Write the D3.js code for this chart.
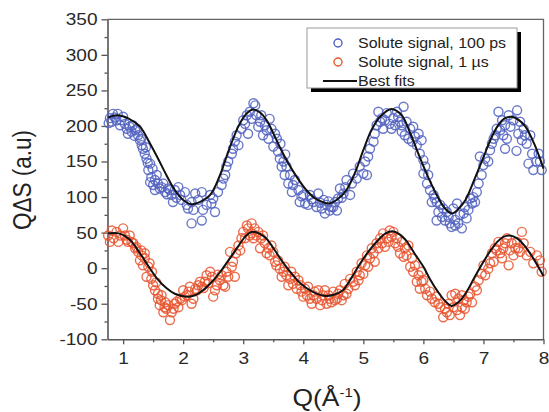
<!DOCTYPE html>
<meta charset="utf-8">

<!-- Load d3.js -->
<script src="https://d3js.org/d3.v7.min.js"></script>

<style>
  body { margin: 0; background: #fff; }
  text { font-family: "Liberation Sans", Arial, sans-serif; }
</style>

<!-- Create a div where the graph will take place -->
<div id="my_dataviz"></div>

<script>

// ---- data ----
var yTicks = [-100, -50, 0, 50, 100, 150, 200, 250, 300, 350];
var xTicks = [1, 2, 3, 4, 5, 6, 7, 8];
var legendLabels = ["Solute signal, 100 ps", "Solute signal, 1 \u00b5s", "Best fits"];

// solute signal, 100 ps  [Q, value]
var sig100ps = [
  [0.78,211],[0.83,217],[0.91,217],[0.81,206],[0.89,208],[0.97,208],[0.95,201],[1.03,203],
  [0.76,204],[0.86,212],[1.00,213],[1.16,201],[1.23,196],[1.19,186],[1.30,182],[1.38,170],
  [1.06,196],[1.11,199],[1.14,192],[1.20,194],[1.08,189],[1.25,187],[1.28,180],[1.31,173],
  [1.33,168],[1.36,161],[1.39,154],[1.45,147],[1.42,138],[1.47,128],[1.45,121],[1.50,117],
  [1.41,148],[1.49,140],[1.53,124],[1.61,112],[1.67,119],[1.73,104],[1.78,110],[1.89,99],
  [1.56,131],[1.58,119],[1.53,110],[1.64,114],[1.70,107],[1.75,112],[1.81,103],[1.83,93],
  [1.86,110],[1.92,114],[1.95,103],[1.97,96],[2.03,107],[2.06,89],[2.08,84],[2.14,93],
  [2.17,82],[2.14,63],[2.20,105],[2.25,96],[2.31,107],[2.33,82],[2.31,67],[2.39,89],
  [2.45,103],[2.47,91],[2.53,79],[2.50,98],[2.58,107],[2.64,117],[2.67,126],[2.70,131],
  [2.72,143],[2.75,150],[2.81,161],[2.83,168],[2.86,178],[2.89,187],[2.92,173],[2.97,196],
  [3.00,208],[3.06,215],[3.08,189],[3.11,220],[3.20,229],[3.14,210],[3.22,215],[3.28,206],
  [3.17,232],[3.30,215],[3.36,201],[3.33,187],[3.44,210],[3.47,196],[3.42,182],[3.56,182],
  [3.03,203],[3.25,199],[3.39,194],[3.53,189],[3.62,175],[3.70,160],[3.86,124],[3.97,101],
  [3.50,171],[3.58,164],[3.61,154],[3.67,150],[3.64,143],[3.72,143],[3.69,131],[3.78,131],
  [3.75,119],[3.83,117],[3.81,107],[3.92,110],[3.94,93],[4.00,103],[4.03,91],[4.08,89],
  [4.11,103],[4.17,93],[4.22,86],[4.25,105],[4.31,84],[4.36,77],[4.39,89],[4.44,81],
  [4.14,97],[4.28,92],[4.34,96],[4.42,94],[4.47,86],[4.53,93],[4.64,99],[4.70,114],
  [4.50,86],[4.56,81],[4.58,98],[4.61,112],[4.67,105],[4.72,124],[4.78,103],[4.81,119],
  [4.83,133],[4.89,126],[4.94,143],[5.00,133],[5.03,150],[5.08,157],[5.11,168],[5.06,131],
  [5.17,178],[5.19,189],[5.22,201],[5.25,220],[5.31,211],[5.33,196],[5.39,218],[5.44,203],
  [5.50,211],[5.56,220],[5.61,206],[5.64,192],[5.67,227],[5.64,201],[5.72,206],[5.78,196],
  [5.28,206],[5.36,208],[5.47,196],[5.53,201],[5.58,213],[5.69,187],[5.75,182],[5.81,178],
  [5.83,199],[5.86,185],[5.92,189],[5.97,180],[5.89,173],[5.94,161],[6.00,152],[6.03,143],
  [6.00,133],[6.08,131],[6.06,119],[6.11,110],[6.17,103],[6.14,93],[6.22,93],[6.28,89],
  [6.25,79],[6.31,72],[6.22,67],[6.36,67],[6.39,79],[6.44,63],[6.50,84],[6.56,91],
  [6.19,98],[6.33,84],[6.42,72],[6.53,68],[6.61,75],[6.69,86],[6.78,98],[6.53,60],
  [6.47,58],[6.58,63],[6.64,56],[6.67,77],[6.72,70],[6.75,82],[6.81,91],[6.86,93],
  [6.89,107],[6.83,100],[6.92,119],[6.97,131],[7.00,145],[7.03,154],[6.94,157],[7.08,150],
  [7.11,166],[7.17,182],[7.22,196],[7.25,220],[7.31,208],[7.28,194],[7.36,201],[7.39,182],
  [7.36,168],[7.42,215],[7.56,222],[7.61,206],[7.58,189],[7.67,196],[7.72,175],[7.55,165],
  [7.14,175],[7.20,187],[7.33,187],[7.45,199],[7.50,208],[7.64,180],[7.69,187],[7.88,150],
  [7.78,187],[7.81,161],[7.75,147],[7.83,138],[7.92,161],[7.94,150],[7.97,138]
];

// solute signal, 1 us  [Q, value]
var sig1us = [
  [0.75,46],[0.81,53],[0.89,51],[0.78,37],[0.92,37],[1.00,56],[1.03,46],[1.11,46],
  [0.84,42],[0.95,46],[1.06,40],[1.14,37],[1.22,30],[1.30,25],[1.36,21],[1.44,7],
  [1.08,37],[1.17,35],[1.20,28],[1.25,23],[1.31,18],[1.28,11],[1.36,14],[1.33,4],
  [1.42,2],[1.39,-12],[1.47,-15],[1.50,-24],[1.53,-31],[1.58,-36],[1.58,-43],[1.64,-38],
  [1.48,-5],[1.55,-20],[1.63,-45],[1.69,-55],[1.75,-52],[1.84,-57],[1.89,-47],[1.98,-45],
  [1.61,-52],[1.70,-48],[1.67,-62],[1.72,-57],[1.81,-62],[1.78,-73],[1.86,-50],[1.92,-55],
  [1.95,-43],[2.00,-31],[2.06,-38],[2.11,-26],[2.14,-50],[2.17,-43],[2.20,-29],[2.25,-24],
  [2.31,-26],[2.36,-19],[2.39,-10],[2.45,-5],[2.50,-40],[2.53,-31],[2.56,-24],[2.61,-17],
  [2.03,-40],[2.09,-33],[2.23,-31],[2.28,-19],[2.34,-28],[2.42,-21],[2.48,-12],[2.58,-9],
  [2.64,-10],[2.67,-24],[2.70,-26],[2.72,-5],[2.75,-12],[2.81,2],[2.86,-12],[2.83,9],
  [2.78,23],[2.92,32],[2.97,42],[3.00,51],[3.06,60],[3.08,56],[3.14,49],[3.14,63],
  [3.19,56],[3.25,51],[3.17,42],[3.30,42],[3.36,35],[3.28,28],[3.42,28],[3.44,18],
  [2.88,21],[2.95,25],[3.03,42],[3.11,46],[3.22,46],[3.33,46],[3.39,21],[3.47,32],
  [3.50,23],[3.53,9],[3.58,11],[3.61,-1],[3.67,-5],[3.64,-12],[3.72,-10],[3.78,-15],
  [3.75,-24],[3.83,-22],[3.89,-29],[3.92,-17],[3.97,-33],[4.03,-29],[4.06,-38],[4.11,-43],
  [3.55,4],[3.69,2],[3.80,-5],[3.86,-12],[3.95,-24],[4.00,-40],[4.08,-26],[4.17,-38],
  [4.14,-50],[4.19,-33],[4.22,-43],[4.28,-52],[4.33,-38],[4.39,-50],[4.42,-38],[4.47,-48],
  [4.25,-31],[4.31,-45],[4.36,-31],[4.44,-43],[4.53,-45],[4.58,-36],[4.64,-45],[4.72,-36],
  [4.50,-33],[4.56,-43],[4.61,-31],[4.67,-38],[4.69,-22],[4.75,-29],[4.78,-15],[4.83,-19],
  [4.89,-5],[4.94,-10],[4.97,7],[5.03,4],[5.06,18],[5.11,14],[5.14,28],[5.19,9],
  [4.86,-24],[4.92,-17],[5.00,-8],[5.08,2],[5.17,21],[5.25,28],[5.31,35],[5.36,30],
  [5.22,35],[5.28,42],[5.33,49],[5.39,42],[5.44,53],[5.50,51],[5.56,42],[5.58,30],
  [5.64,37],[5.69,28],[5.75,32],[5.72,18],[5.81,14],[5.86,4],[5.83,-5],[5.92,-10],
  [5.42,37],[5.47,44],[5.53,35],[5.61,21],[5.67,16],[5.78,2],[5.97,-5],[6.00,-17],
  [5.89,-19],[5.97,-19],[5.94,-29],[6.03,-29],[6.06,-38],[6.11,-33],[6.14,-43],[6.19,-48],
  [6.25,-50],[6.33,-69],[6.39,-62],[6.44,-66],[6.36,-57],[6.47,-38],[6.53,-36],[6.58,-43],
  [6.22,-40],[6.28,-55],[6.42,-50],[6.50,-55],[6.64,-55],[6.67,-45],[6.75,-40],[6.89,-31],
  [6.56,-59],[6.64,-38],[6.61,-66],[6.69,-57],[6.72,-48],[6.78,-36],[6.81,-48],[6.86,-26],
  [6.92,-17],[6.97,-8],[7.00,4],[7.08,-1],[7.14,21],[7.17,9],[7.22,25],[7.25,37],
  [7.31,14],[7.33,28],[7.39,42],[7.42,4],[7.44,25],[7.50,18],[7.56,37],[7.58,28],
  [7.03,-10],[7.11,7],[7.19,28],[7.28,21],[7.36,35],[7.47,35],[7.53,28],[7.61,23],
  [7.64,51],[7.67,35],[7.72,18],[7.78,23],[7.83,7],[7.89,18],[7.94,11],[7.97,-5]
];

// best fit curves  [Q, value]
var fit100ps = [
  [0.75,212],[0.90,215],[1.10,210],[1.28,199],[1.45,175],[1.57,156],[1.72,131],[1.86,110],
  [2.00,96],[2.14,90],[2.30,94],[2.45,103],[2.60,128],[2.74,161],[2.90,196],[3.03,215],
  [3.16,223],[3.28,219],[3.39,208],[3.50,190],[3.61,170],[3.76,146],[3.91,126],[4.05,110],
  [4.20,98],[4.32,93],[4.43,91],[4.57,97],[4.72,110],[4.86,134],[5.00,166],[5.14,195],
  [5.29,214],[5.47,224],[5.64,215],[5.79,188],[5.94,156],[6.09,126],[6.24,100],[6.36,84],
  [6.48,77],[6.59,84],[6.70,96],[6.85,125],[7.00,156],[7.12,181],[7.23,199],[7.34,210],
  [7.46,213],[7.58,209],[7.70,199],[7.85,174],[8.00,140]
];
var fit1us = [
  [0.75,49],[0.93,49],[1.10,41],[1.28,21],[1.42,3],[1.57,-15],[1.72,-28],[1.86,-36],
  [2.07,-40],[2.20,-38],[2.33,-31],[2.48,-19],[2.62,-5],[2.77,13],[2.91,30],[3.03,44],
  [3.14,51],[3.26,49],[3.38,42],[3.52,26],[3.67,7],[3.81,-8],[3.96,-22],[4.15,-33],
  [4.37,-39],[4.52,-37],[4.66,-31],[4.80,-14],[4.95,7],[5.10,25],[5.24,39],[5.37,49],
  [5.48,52],[5.60,48],[5.71,39],[5.85,21],[6.00,2],[6.12,-17],[6.24,-33],[6.36,-46],
  [6.47,-53],[6.58,-48],[6.70,-36],[6.85,-13],[7.00,9],[7.12,25],[7.23,37],[7.33,44],
  [7.44,46],[7.56,42],[7.70,30],[7.85,11],[8.00,-11]
];

// ---- layout ----
var W = 549, H = 412;
var plot = {left: 107.5, right: 543.5, top: 19.3, bottom: 339.3};
var blue = "#5060c0", red = "#e8542e";
var stretch = 1.15;   // the original figure is a bit wide-set

var svg = d3.select("#my_dataviz")
  .append("svg")
    .attr("width", W)
    .attr("height", H);

var x = d3.scaleLinear().domain([0.74, 8]).range([plot.left, plot.right]);
var y = d3.scaleLinear().domain([-100, 350]).range([plot.bottom, plot.top]);

// widen a text element horizontally
function widen(sel, k) {
  sel.each(function() {
    var len = this.getComputedTextLength();
    d3.select(this).attr("textLength", len * k).attr("lengthAdjust", "spacingAndGlyphs");
  });
}

// frame (top and right)
svg.append("path")
  .attr("d", "M" + plot.left + "," + plot.top + "H" + plot.right + "V" + plot.bottom)
  .attr("fill", "none")
  .attr("stroke", "#666")
  .attr("stroke-width", 1.3);

// X axis
svg.append("g")
  .attr("transform", "translate(0," + plot.bottom + ")")
  .call(d3.axisBottom(x).tickValues(xTicks).tickSize(5).tickSizeOuter(0).tickPadding(8)
        .tickFormat(function(d) { return String(d); }));
svg.append("g")
  .attr("transform", "translate(0," + plot.bottom + ")")
  .call(d3.axisBottom(x).tickValues(d3.range(1.5, 8, 1)).tickSize(3).tickSizeOuter(0).tickFormat(""))
  .select(".domain").remove();

// Y axis
svg.append("g")
  .attr("transform", "translate(" + plot.left + ",0)")
  .call(d3.axisLeft(y).tickValues(yTicks).tickSize(6).tickSizeOuter(0).tickPadding(4)
        .tickFormat(function(d) { return String(d); }));
svg.append("g")
  .attr("transform", "translate(" + plot.left + ",0)")
  .call(d3.axisLeft(y).tickValues(d3.range(-75, 350, 50)).tickSize(3).tickSizeOuter(0).tickFormat(""))
  .select(".domain").remove();

svg.selectAll(".domain").attr("stroke", "#555").attr("stroke-width", 1.6);
svg.selectAll(".tick line").attr("stroke", "#555").attr("stroke-width", 1.3);
svg.selectAll(".tick text")
  .attr("font-size", 17)
  .attr("fill", "#282828")
  .style("font-family", "'Liberation Sans', Arial, sans-serif")
  .call(widen, 1.12);

// axis titles
svg.append("text")
  .attr("transform", "translate(31,180)rotate(-90)scale(1," + stretch + ")")
  .attr("text-anchor", "middle")
  .attr("font-size", 22.5)
  .attr("fill", "#222")
  .text("Q\u0394S (a.u)");

var xt = svg.append("text")
  .attr("transform", "translate(327,406)scale(" + stretch + ",1)")
  .attr("text-anchor", "middle")
  .attr("font-size", 23)
  .attr("fill", "#222");
xt.append("tspan").text("Q(\u00c5");
xt.append("tspan").attr("font-size", 13).attr("dy", -9).text("-1");
xt.append("tspan").attr("dy", 9).text(")");

// scatter points
function drawPoints(data, color) {
  svg.append("g")
    .selectAll("circle")
    .data(data)
    .enter()
    .append("circle")
      .attr("cx", function(d) { return x(d[0]); })
      .attr("cy", function(d) { return y(d[1]); })
      .attr("r", 4.5)
      .attr("fill", "none")
      .attr("stroke", color)
      .attr("stroke-width", 1.4)
      .attr("stroke-opacity", 0.85);
}
drawPoints(sig100ps, blue);
drawPoints(sig1us, red);

// fit lines
var line = d3.line()
  .x(function(d) { return x(d[0]); })
  .y(function(d) { return y(d[1]); })
  .curve(d3.curveCatmullRom.alpha(0.5));

[fit100ps, fit1us].forEach(function(f) {
  svg.append("path")
    .datum(f)
    .attr("d", line)
    .attr("fill", "none")
    .attr("stroke", "#111")
    .attr("stroke-width", 2);
});

// legend
var lg = svg.append("g");
lg.append("rect")
  .attr("x", 311).attr("y", 32).attr("width", 210).attr("height", 60)
  .attr("fill", "#000");
lg.append("rect")
  .attr("x", 307).attr("y", 28).attr("width", 210).attr("height", 60)
  .attr("fill", "#fff")
  .attr("stroke", "#999")
  .attr("stroke-width", 1);

var rowY = [43, 62, 81];
lg.append("circle").attr("cx", 338).attr("cy", rowY[0]).attr("r", 4)
  .attr("fill", "none").attr("stroke", blue).attr("stroke-width", 1.4);
lg.append("circle").attr("cx", 338).attr("cy", rowY[1]).attr("r", 4)
  .attr("fill", "none").attr("stroke", red).attr("stroke-width", 1.4);
lg.append("line")
  .attr("x1", 323).attr("x2", 357).attr("y1", rowY[2]).attr("y2", rowY[2])
  .attr("stroke", "#111").attr("stroke-width", 2);

lg.selectAll("text.leg")
  .data(legendLabels)
  .enter()
  .append("text")
    .attr("class", "leg")
    .attr("x", 358)
    .attr("y", function(d, i) { return rowY[i] + 5; })
    .attr("font-size", 14.5)
    .attr("fill", "#222")
    .text(function(d) { return d; })
    .call(widen, 1.1);

</script>
